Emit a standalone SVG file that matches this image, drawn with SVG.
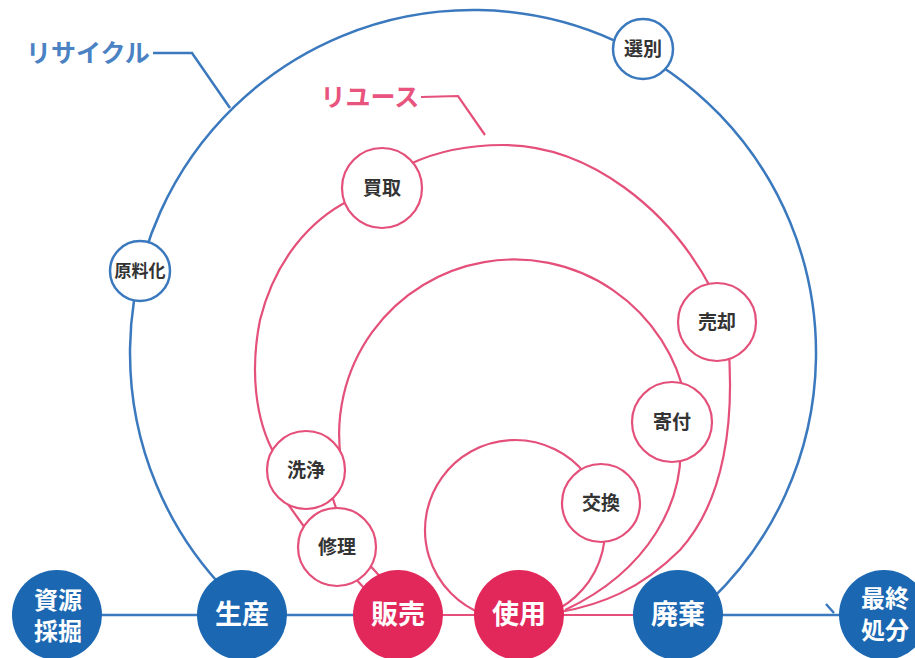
<svg xmlns="http://www.w3.org/2000/svg" width="915" height="658" viewBox="0 0 915 658">
<style>
text{font-family:'Liberation Sans','Noto Sans CJK JP',sans-serif;font-weight:bold;text-anchor:middle;dominant-baseline:central}
.bl{fill:none;stroke:#3b79be;stroke-width:2.5}
.pl{fill:none;stroke:#e4507a;stroke-width:2.2}
.bn{fill:#1b67b2}
.pn{fill:#e2285b}
.sp{fill:#fff;stroke:#e4507a;stroke-width:2.2}
.sb{fill:#fff;stroke:#3b79be;stroke-width:2.5}
.big{fill:#fff;font-size:27px}
.two{fill:#fff;font-size:24px}
.sm{fill:#333;font-size:19px}
</style>
<rect width="915" height="658" fill="#fff"/>
<g id="connectors">
  <path class="bl" d="M 57 615 L 398 615" stroke-width="3"/>
  <path class="pl" d="M 398 615 L 678 615" stroke-width="3"/>
  <path class="bl" d="M 678 615 L 840 615" stroke-width="3"/>
  <path class="bl" d="M 826 604 L 834 613"/>
  <path class="bl" d="M 227 592 A 343 343 0 1 1 711 600"/>
  <path class="bl" d="M 153 53 L 192 53 L 230 108"/>
  <path class="pl" d="M 421 97 L 458 96 L 485 135"/>
  <path class="pl" d="M 366 590 L 352 575 M 310 535 L 285 500 M 275 455 C 255 420 250 370 260 320 C 275 260 310 220 350 200 M 410 164 C 440 150 475 145 503 145 C 590 145 670 210 712 290 M 728 340 C 735 420 725 500 680 550 C 640 590 600 605 560 612"/>
  <path class="pl" d="M 385 582 L 365 560 M 340 520 L 330 490 M 341 460 A 175 175 0 0 1 685.7 400 M 680 440 C 685 500 650 570 565 610"/>
  <path class="pl" d="M 483.5 614.3 A 90 90 0 1 1 551 612.5"/>
</g>
<text x="88" y="53" style="fill:#4a82c4;font-size:25px">リサイクル</text>
<text x="370" y="97" style="fill:#e8547e;font-size:25px">リユース</text>
<g id="n-genryoka"><circle class="sb" cx="140" cy="271" r="30"/><text class="sm" x="140" y="271" style="font-size:17px">原料化</text></g>
<g id="n-senbetsu"><circle class="sb" cx="643" cy="49" r="30"/><text class="sm" x="643" y="49">選別</text></g>
<g id="n-kaitori"><circle class="sp" cx="382" cy="188" r="40"/><text class="sm" x="382" y="188">買取</text></g>
<g id="n-baikyaku"><circle class="sp" cx="717" cy="322" r="39"/><text class="sm" x="717" y="322">売却</text></g>
<g id="n-kifu"><circle class="sp" cx="672" cy="422" r="40"/><text class="sm" x="672" y="422">寄付</text></g>
<g id="n-koukan"><circle class="sp" cx="601" cy="503" r="39"/><text class="sm" x="601" y="503">交換</text></g>
<g id="n-senjou"><circle class="sp" cx="306" cy="470" r="39"/><text class="sm" x="306" y="470">洗浄</text></g>
<g id="n-shuuri"><circle class="sp" cx="337" cy="547" r="39"/><text class="sm" x="337" y="547">修理</text></g>
<g id="n-shigen"><circle class="bn" cx="57" cy="615" r="45"/><text class="two" x="58" y="600">資源</text><text class="two" x="58" y="631">採掘</text></g>
<g id="n-seisan"><circle class="bn" cx="242" cy="615" r="45"/><text class="big" x="242" y="615">生産</text></g>
<g id="n-hanbai"><circle class="pn" cx="398" cy="615" r="45"/><text class="big" x="398" y="615">販売</text></g>
<g id="n-shiyou"><circle class="pn" cx="519" cy="615" r="45"/><text class="big" x="519" y="615">使用</text></g>
<g id="n-haiki"><circle class="bn" cx="678" cy="615" r="45"/><text class="big" x="678" y="615">廃棄</text></g>
<g id="n-saishuu"><circle class="bn" cx="884" cy="615" r="45"/><text class="two" x="885" y="598">最終</text><text class="two" x="885" y="630">処分</text></g>
</svg>
